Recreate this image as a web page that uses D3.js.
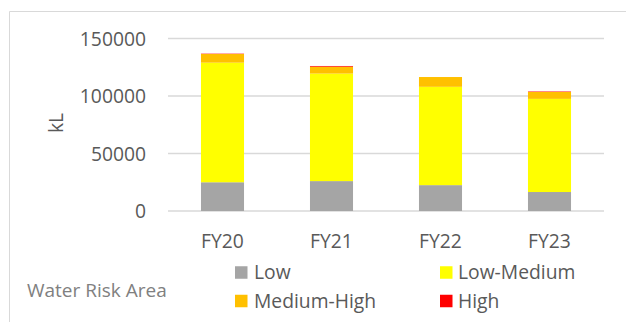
<!DOCTYPE html>
<html>
<head>
<meta charset="utf-8">
<script src="https://cdn.jsdelivr.net/npm/d3@7"></script>
<style>
  html, body { margin: 0; padding: 0; background: #fff; }
  svg text { font-family: "Open Sans", sans-serif; }
</style>
</head>
<body>
<svg id="chart" width="626" height="322"></svg>
<script>
// Water withdrawal by risk area (kL)
const years = ["FY20", "FY21", "FY22", "FY23"];
const low = [25000, 26000, 22500, 16500];
const lowMedium = [104000, 93500, 85500, 81000];
const mediumHigh = [7500, 6000, 8500, 6000];
const high = [300, 600, 0, 400];
const yTicks = [0, 50000, 100000, 150000];
const seriesNames = ["Low", "Low-Medium", "Medium-High", "High"];
const seriesColors = ["#a5a5a5", "#ffff00", "#ffc000", "#ff0000"];

const svg = d3.select("#chart");
const textColor = "#595959";
const fontSize = "19.3px";

// outer frame edges
svg.append("line").attr("x1", 9.5).attr("x2", 9.5).attr("y1", 11.5).attr("y2", 322)
  .attr("stroke", "#d9d9d9").attr("stroke-width", 1);
svg.append("line").attr("x1", 9.5).attr("x2", 626).attr("y1", 11.5).attr("y2", 11.5)
  .attr("stroke", "#d9d9d9").attr("stroke-width", 1);

const x = d3.scaleBand().domain(years).range([168, 604])
  .paddingInner(0.605).paddingOuter(0.3025);
const y = d3.scaleLinear().domain([0, 150000]).range([211, 38.5]);

// gridlines
svg.append("g").selectAll("line").data(yTicks).join("line")
  .attr("x1", 168).attr("x2", 604)
  .attr("y1", d => y(d)).attr("y2", d => y(d))
  .attr("stroke", "#d9d9d9").attr("stroke-width", 1.5);

// y axis labels
const yAxis = d3.axisLeft(y).tickValues(yTicks).tickSize(0).tickPadding(0)
  .tickFormat(d3.format("d"));
const yg = svg.append("g").attr("transform", "translate(146,0)").call(yAxis);
yg.select(".domain").remove();
yg.selectAll("text").attr("fill", textColor).style("font-size", fontSize)
  .attr("dy", "0.35em");

// stacked bars
const rows = years.map((yr, i) => ({
  year: yr, "Low": low[i], "Low-Medium": lowMedium[i],
  "Medium-High": mediumHigh[i], "High": high[i]
}));
const stack = d3.stack().keys(seriesNames)(rows);
svg.append("g").selectAll("g").data(stack).join("g")
  .attr("fill", (d, i) => seriesColors[i])
  .selectAll("rect").data(d => d).join("rect")
  .attr("x", d => x(d.data.year))
  .attr("width", x.bandwidth())
  .attr("y", d => y(d[1]))
  .attr("height", d => Math.max(0, y(d[0]) - y(d[1])));

// x axis labels
const xAxis = d3.axisBottom(x).tickSize(0).tickPadding(0);
const xg = svg.append("g").attr("transform", "translate(0,229)").call(xAxis);
xg.select(".domain").remove();
xg.selectAll("text").attr("fill", textColor).style("font-size", fontSize)
  .attr("dy", "0.35em").attr("y", 12);

// y axis title
svg.append("text")
  .attr("transform", "translate(56,123) rotate(-90)")
  .attr("text-anchor", "middle").attr("dy", "0.35em")
  .attr("fill", textColor).style("font-size", fontSize)
  .text("kL");

// legend
const legendPos = [
  { sx: 235, tx: 254, cy: 272.5 },
  { sx: 440, tx: 458, cy: 272.5 },
  { sx: 235, tx: 254, cy: 301 },
  { sx: 440, tx: 458, cy: 301 }
];
const lg = svg.append("g").selectAll("g").data(seriesNames).join("g");
lg.append("rect")
  .attr("x", (d, i) => legendPos[i].sx)
  .attr("y", (d, i) => legendPos[i].cy - 6.25)
  .attr("width", 12.5).attr("height", 12.5)
  .attr("fill", (d, i) => seriesColors[i]);
lg.append("text")
  .attr("x", (d, i) => legendPos[i].tx)
  .attr("y", (d, i) => legendPos[i].cy)
  .attr("dy", "0.35em")
  .attr("fill", textColor).style("font-size", fontSize)
  .text(d => d);

// caption
svg.append("text")
  .attr("x", 27).attr("y", 290).attr("dy", "0.35em")
  .attr("fill", "#808080").style("font-size", "19px")
  .text("Water Risk Area");
</script>
</body>
</html>
